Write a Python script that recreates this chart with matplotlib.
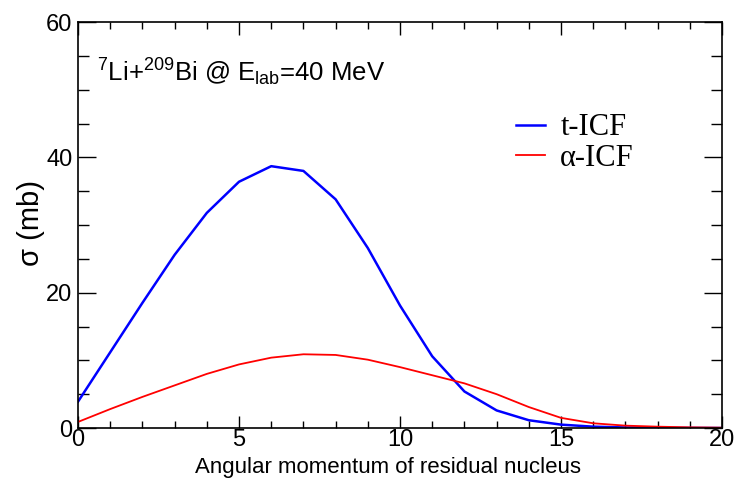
import numpy as np
import matplotlib
matplotlib.use("Agg")
from matplotlib import pyplot as plt
from matplotlib.ticker import MultipleLocator

plt.rcParams['font.family'] = ['Liberation Sans', 'DejaVu Sans']
plt.rcParams['mathtext.fontset'] = 'custom'
plt.rcParams['mathtext.rm'] = 'Liberation Sans'
plt.rcParams['mathtext.it'] = 'Liberation Sans'

# angular momentum (hbar)
ell = np.arange(0, 21)
# t-ICF cross section (mb)
t_icf = [3.9, 11.2, 18.5, 25.6, 31.8, 36.4, 38.7, 38.0, 33.8, 26.6, 18.1,
         10.6, 5.4, 2.6, 1.15, 0.5, 0.2, 0.08, 0.03, 0.01, 0.0]
# alpha-ICF cross section (mb)
a_icf = [0.9, 2.8, 4.6, 6.3, 8.0, 9.4, 10.4, 10.9, 10.8, 10.1, 9.0,
         7.8, 6.6, 5.0, 3.1, 1.5, 0.7, 0.35, 0.2, 0.1, 0.05]

fig = plt.figure(figsize=(7.34, 4.8), dpi=100)
ax = fig.add_axes([0.1063, 0.1083, 0.8774, 0.8457])

ax.plot(ell, t_icf, color="#0000ff", lw=1.8, label="t-ICF")
ax.plot(ell, a_icf, color="#ff0000", lw=1.3, label="\u03b1-ICF")

ax.set_xlim(0, 20)
ax.set_ylim(0, 60)
ax.xaxis.set_major_locator(MultipleLocator(5))
ax.xaxis.set_minor_locator(MultipleLocator(1))
ax.yaxis.set_major_locator(MultipleLocator(20))
ax.yaxis.set_minor_locator(MultipleLocator(5))
ax.tick_params(which="both", direction="in", top=True, right=True,
               labelsize=17, width=1)
ax.tick_params(axis="x", which="major", length=9, pad=1)
ax.tick_params(axis="x", which="minor", length=5)
ax.tick_params(axis="y", which="major", length=13, pad=4)
ax.tick_params(axis="y", which="minor", length=8)
for s in ax.spines.values():
    s.set_linewidth(1.2)

ax.set_xlabel("Angular momentum of residual nucleus", fontsize=16, labelpad=4)
ax.xaxis.label.set_x(0.481)
ax.set_ylabel("\u03c3 (mb)", fontsize=21, labelpad=1)
ax.yaxis.label.set_y(0.505)

ax.text(0.03, 0.855, r"$^{7}$Li+$^{209}$Bi @ E$_{\rm lab}$=40 MeV",
        transform=ax.transAxes, fontsize=18.5)

leg = ax.legend(loc="upper left", bbox_to_anchor=(0.68, 0.775), frameon=False,
                prop={"family": "Liberation Serif", "size": 22},
                handlelength=0.95, handletextpad=0.5, labelspacing=0.05,
                borderaxespad=0, borderpad=0)

fig.savefig("out.png", dpi=100)
